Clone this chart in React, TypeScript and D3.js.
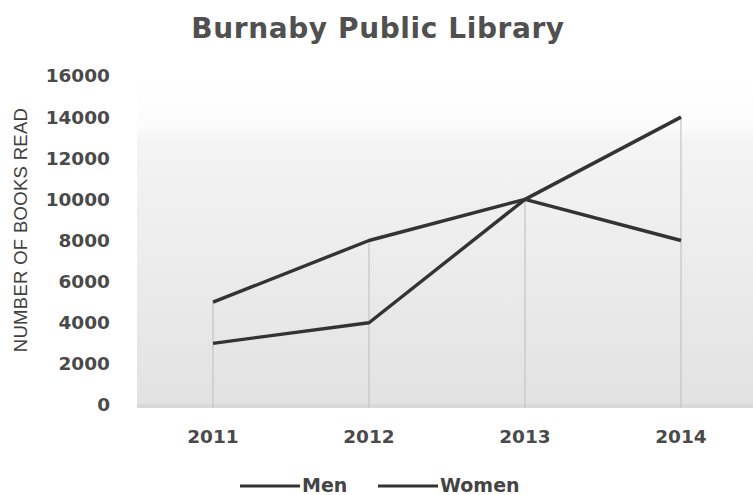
import React from "react";
import * as d3 from "d3";

const years = ["2011", "2012", "2013", "2014"];
const men = [3000, 4000, 10000, 14000];
const women = [5000, 8000, 10000, 8000];
const yTicks = [0, 2000, 4000, 6000, 8000, 10000, 12000, 14000, 16000];
const seriesNames = ["Men", "Women"];

const W = 753;
const H = 495;

export default function App() {
  const x = d3.scaleBand<string>().domain(years).range([135, 759]).padding(0);
  const cx = (d: string) => (x(d) as number) + x.bandwidth() / 2;
  const y = d3.scaleLinear().domain([0, 16000]).range([405, 76]);
  const plotLeft = 137;
  const plotRight = W;
  const plotTop = 76;
  const plotBottom = 408;

  const line = d3
    .line<number>()
    .x((_, i) => cx(years[i]))
    .y((d) => y(d));

  const series = [men, women];
  const legendX = [240, 378];

  return (
    <svg
      width={W}
      height={H}
      style={{ position: "absolute", left: 0, top: 0, background: "#fff" }}
    >
      <defs>
        <linearGradient id="bg" x1="0" y1="0" x2="0" y2="1">
          <stop offset="0" stopColor="#ffffff" />
          <stop offset="0.15" stopColor="#fcfcfc" />
          <stop offset="0.2" stopColor="#f4f4f4" />
          <stop offset="1" stopColor="#e2e2e2" />
        </linearGradient>
      </defs>
      <rect
        x={plotLeft}
        y={plotTop}
        width={plotRight - plotLeft}
        height={plotBottom - plotTop}
        fill="url(#bg)"
      />
      <rect x={plotLeft} y={plotBottom - 4} width={plotRight - plotLeft} height={4} fill="#d9d9d9" />

      {/* drop lines */}
      {years.map((yr, i) => (
        <line
          key={yr}
          x1={cx(yr)}
          x2={cx(yr)}
          y1={y(Math.max(men[i], women[i]))}
          y2={plotBottom}
          stroke="#c4c4c4"
          strokeWidth={1.2}
        />
      ))}

      {series.map((s, k) => (
        <path
          key={k}
          d={line(s) as string}
          fill="none"
          stroke="#333"
          strokeWidth={3.4}
          strokeLinejoin="round"
        />
      ))}

      {/* title */}
      <text
        x={378}
        y={38}
        textAnchor="middle"
        fontFamily="DejaVu Sans"
        fontWeight="bold"
        fontSize={28}
        letterSpacing={0.6}
        fill="#505050"
      >
        Burnaby Public Library
      </text>

      {/* y ticks */}
      {yTicks.map((t) => (
        <text
          key={t}
          x={110}
          y={y(t)}
          dy="0.35em"
          textAnchor="end"
          fontFamily="DejaVu Sans"
          fontWeight="bold"
          fontSize={18.5}
          fill="#4a4a4a"
        >
          {t}
        </text>
      ))}

      {/* y title */}
      <text
        transform={`translate(27,${230}) rotate(-90)`}
        textAnchor="middle"
        fontFamily="Liberation Sans"
        fontSize={18.5}
        letterSpacing={0.3}
        fill="#404040"
      >
        NUMBER OF BOOKS READ
      </text>

      {/* x labels */}
      {years.map((yr) => (
        <text
          key={yr}
          x={cx(yr)}
          y={437}
          dy="0.35em"
          textAnchor="middle"
          fontFamily="DejaVu Sans"
          fontWeight="bold"
          fontSize={18.5}
          fill="#4a4a4a"
        >
          {yr}
        </text>
      ))}

      {/* legend */}
      {seriesNames.map((n, k) => (
        <g key={n}>
          <line
            x1={legendX[k]}
            x2={legendX[k] + 60}
            y1={486}
            y2={486}
            stroke="#333"
            strokeWidth={3}
          />
          <text
            x={legendX[k] + 62}
            y={485}
            dy="0.35em"
            fontFamily="DejaVu Sans"
            fontWeight="bold"
            fontSize={19}
            fill="#444"
          >
            {n}
          </text>
        </g>
      ))}
    </svg>
  );
}
